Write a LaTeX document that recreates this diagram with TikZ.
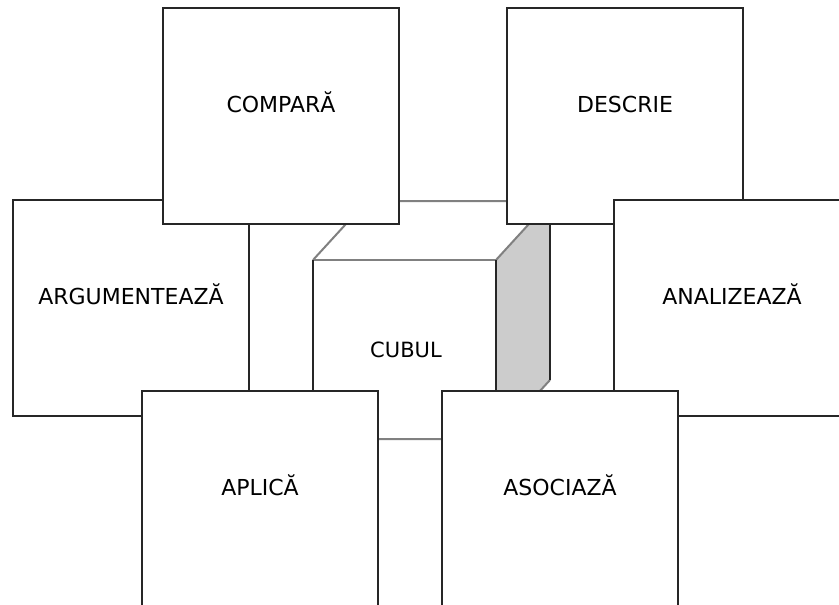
\documentclass[tikz,border=0pt]{standalone}
\usepackage{fontspec}
\setmainfont{DejaVu Sans}

\begin{document}
\begin{tikzpicture}[x=1pt,y=-1pt,
    box/.style={draw=black!85,fill=white,line width=1.4pt,minimum width=236pt,minimum height=216pt,inner sep=0pt,text height=16pt,text depth=24pt,font=\fontsize{22}{25}\selectfont},
    greyedge/.style={draw=black!50,line width=2pt},
    darkedge/.style={draw=black!85,line width=1.4pt}]
    \clip (0,0) rectangle (839,605);

    % the cube
    \coordinate (f1) at (313,260);
    \coordinate (f2) at (496,260);
    \coordinate (f3) at (496,439);
    \coordinate (f4) at (313,439);
    \coordinate (b1) at (367,201);
    \coordinate (b2) at (550,201);
    \coordinate (b3) at (550,380);
    \fill[white] (f1) -- (b1) -- (b2) -- (f2) -- cycle;
    \fill[black!20] (f2) -- (b2) -- (b3) -- (f3) -- cycle;
    \draw[greyedge] (f1) -- (b1) -- (b2);
    \draw[greyedge] (f2) -- (b2);
    \draw[greyedge] (f1) -- (f2);
    \draw[greyedge] (f4) -- (f3) -- (b3);
    \draw[darkedge] (f1) -- (f4);
    \draw[darkedge] (f2) -- (f3);
    \draw[darkedge] (b2) -- (b3);
    \node[font=\fontsize{21}{24}\selectfont] (cubul) at (406,349.5) {CUBUL};

    % the six boxes
    \node[box] (argumenteaza) at (131,308) {ARGUMENTEAZĂ};
    \node[box] (descrie) at (625,116) {DESCRIE};
    \node[box] (compara) at (281,116) {COMPARĂ};
    \node[box] (analizeaza) at (732,308) {ANALIZEAZĂ};
    \node[box] (aplica) at (260,499) {APLICĂ};
    \node[box] (asociaza) at (560,499) {ASOCIAZĂ};
\end{tikzpicture}
\end{document}
